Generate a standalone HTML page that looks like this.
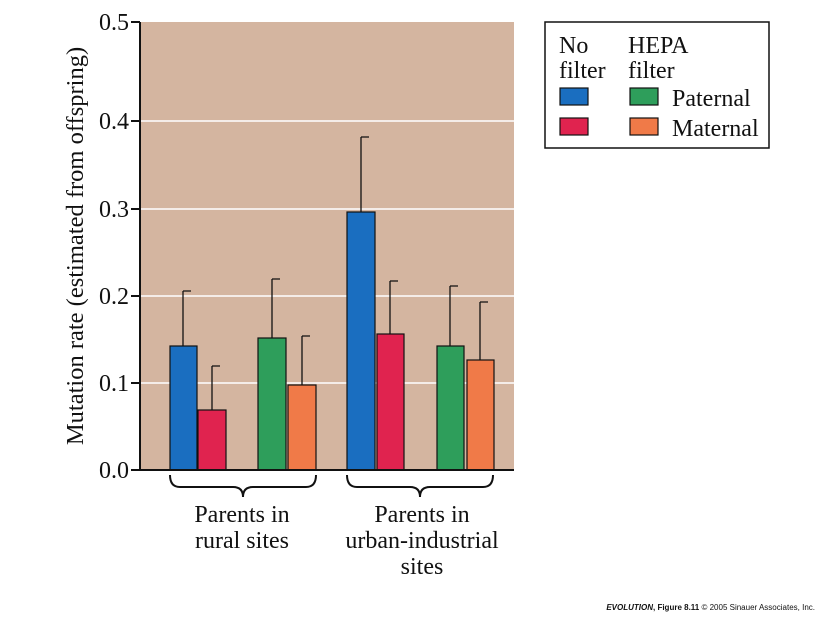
<!DOCTYPE html>
<html><head><style>body{margin:0;background:#fff;}svg{display:block}</style></head><body>
<svg width="825" height="618" xmlns="http://www.w3.org/2000/svg" font-family="Liberation Serif, serif">
<rect x="140" y="22" width="374" height="448" fill="#d4b5a0"/>
<g stroke="#fff" stroke-width="1.5">
<line x1="140" y1="121" x2="514" y2="121"/><line x1="140" y1="209" x2="514" y2="209"/>
<line x1="140" y1="296" x2="514" y2="296"/><line x1="140" y1="383" x2="514" y2="383"/></g>
<g stroke="#111" stroke-width="1.2">
<rect x="170" y="346" width="27" height="124" fill="#1a6ec0"/>
<rect x="198" y="410" width="28" height="60" fill="#e0234f"/>
<rect x="258" y="338" width="28" height="132" fill="#2e9e5b"/>
<rect x="288" y="385" width="28" height="85" fill="#f07a48"/>
<rect x="347" y="212" width="28" height="258" fill="#1a6ec0"/>
<rect x="377" y="334" width="27" height="136" fill="#e0234f"/>
<rect x="437" y="346" width="27" height="124" fill="#2e9e5b"/>
<rect x="467" y="360" width="27" height="110" fill="#f07a48"/>
</g>
<g stroke="#111" stroke-width="1.3" fill="none">
<path d="M183 346V291M183 291h8"/><path d="M212 410V366M212 366h8"/>
<path d="M272 338V279M272 279h8"/><path d="M302 385V336M302 336h8"/>
<path d="M361 212V137M361 137h8"/><path d="M390 334V281M390 281h8"/>
<path d="M450 346V286M450 286h8"/><path d="M480 360V302M480 302h8"/>
</g>
<g stroke="#111" stroke-width="2" fill="none">
<line x1="140" y1="22" x2="140" y2="471"/><line x1="139" y1="470" x2="514" y2="470"/>
<path d="M131 22h9M131 121h9M131 209h9M131 296h9M131 383h9M131 470h9"/>
<path d="M170 475q0 12 10 12h53q10 0 10 10q0-10 10-10h53q10 0 10-12"/>
<path d="M347 475q0 12 10 12h53q10 0 10 10q0-10 10-10h53q10 0 10-12"/>
</g>
<g font-size="24" fill="#111" text-anchor="end">
<text x="129" y="30">0.5</text><text x="129" y="129">0.4</text><text x="129" y="217">0.3</text>
<text x="129" y="304">0.2</text><text x="129" y="391">0.1</text><text x="129" y="478">0.0</text></g>
<text transform="translate(83,246) rotate(-90)" font-size="24.5" text-anchor="middle" fill="#111">Mutation rate (estimated from offspring)</text>
<g font-size="24" fill="#111" text-anchor="middle">
<text x="242" y="522">Parents in</text><text x="242" y="548">rural sites</text>
<text x="422" y="522">Parents in</text><text x="422" y="548">urban-industrial</text><text x="422" y="574">sites</text></g>
<rect x="545" y="22" width="224" height="126" fill="#fff" stroke="#111" stroke-width="1.5"/>
<g font-size="24" fill="#111">
<text x="559" y="53">No</text><text x="559" y="78">filter</text>
<text x="628" y="53">HEPA</text><text x="628" y="78">filter</text>
<text x="672" y="106">Paternal</text><text x="672" y="136">Maternal</text></g>
<g stroke="#111" stroke-width="1.2">
<rect x="560" y="88" width="28" height="17" fill="#1a6ec0"/>
<rect x="560" y="118" width="28" height="17" fill="#e0234f"/>
<rect x="630" y="88" width="28" height="17" fill="#2e9e5b"/>
<rect x="630" y="118" width="28" height="17" fill="#f07a48"/></g>
<text x="815" y="610" font-family="Liberation Sans, sans-serif" font-size="8" text-anchor="end" fill="#111"><tspan font-weight="bold" font-style="italic">EVOLUTION</tspan><tspan font-weight="bold">, Figure 8.11</tspan>  © 2005 Sinauer Associates, Inc.</text>
</svg>
</body></html>
